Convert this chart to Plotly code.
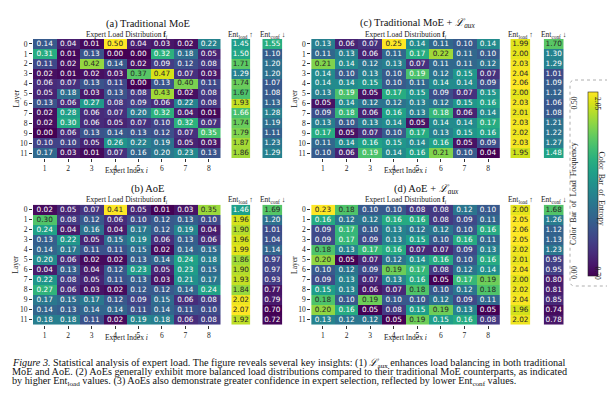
import plotly.graph_objects as go

W, H = 615, 410

experts = [1, 2, 3, 4, 5, 6, 7, 8]
layers = list(range(12))

# (a) Traditional MoE
moe_load = [
    [0.14, 0.04, 0.01, 0.50, 0.04, 0.03, 0.02, 0.22],
    [0.31, 0.01, 0.13, 0.00, 0.00, 0.32, 0.18, 0.05],
    [0.11, 0.02, 0.42, 0.14, 0.02, 0.09, 0.12, 0.08],
    [0.02, 0.01, 0.02, 0.03, 0.37, 0.47, 0.07, 0.03],
    [0.06, 0.07, 0.13, 0.11, 0.00, 0.13, 0.40, 0.11],
    [0.05, 0.18, 0.03, 0.13, 0.08, 0.43, 0.02, 0.08],
    [0.13, 0.06, 0.27, 0.08, 0.09, 0.06, 0.22, 0.08],
    [0.02, 0.28, 0.06, 0.07, 0.20, 0.32, 0.04, 0.01],
    [0.02, 0.30, 0.06, 0.05, 0.07, 0.10, 0.32, 0.07],
    [0.00, 0.06, 0.13, 0.14, 0.13, 0.12, 0.07, 0.35],
    [0.10, 0.10, 0.05, 0.26, 0.22, 0.19, 0.05, 0.03],
    [0.17, 0.03, 0.01, 0.07, 0.16, 0.20, 0.23, 0.13],
]
moe_ent_load = [1.45, 1.50, 1.71, 1.29, 1.74, 1.67, 1.93, 1.66, 1.74, 1.79, 1.87, 1.86]
moe_ent_conf = [1.55, 1.10, 1.20, 1.20, 1.07, 1.08, 1.13, 1.28, 1.19, 1.11, 1.23, 1.29]

# (c) Traditional MoE + L_aux
moe_aux_load = [
    [0.13, 0.06, 0.07, 0.25, 0.14, 0.11, 0.10, 0.14],
    [0.11, 0.13, 0.06, 0.11, 0.17, 0.22, 0.11, 0.10],
    [0.21, 0.14, 0.12, 0.13, 0.07, 0.11, 0.11, 0.12],
    [0.14, 0.10, 0.13, 0.10, 0.19, 0.12, 0.15, 0.07],
    [0.14, 0.14, 0.15, 0.10, 0.11, 0.14, 0.14, 0.09],
    [0.13, 0.19, 0.05, 0.17, 0.15, 0.09, 0.07, 0.15],
    [0.05, 0.14, 0.12, 0.12, 0.13, 0.12, 0.15, 0.16],
    [0.09, 0.18, 0.06, 0.16, 0.13, 0.18, 0.06, 0.14],
    [0.13, 0.10, 0.13, 0.14, 0.05, 0.14, 0.14, 0.17],
    [0.17, 0.05, 0.07, 0.10, 0.17, 0.13, 0.15, 0.16],
    [0.11, 0.14, 0.16, 0.15, 0.14, 0.16, 0.05, 0.09],
    [0.10, 0.06, 0.19, 0.14, 0.16, 0.21, 0.10, 0.04],
]
moe_aux_ent_load = [1.99, 2.00, 2.03, 2.04, 2.06, 2.00, 2.03, 2.01, 2.03, 2.02, 2.03, 1.95]
moe_aux_ent_conf = [1.70, 1.30, 1.29, 1.01, 1.09, 1.12, 1.06, 1.08, 1.21, 1.22, 1.27, 1.48]

# (b) AoE
aoe_load = [
    [0.02, 0.05, 0.07, 0.41, 0.05, 0.01, 0.03, 0.35],
    [0.30, 0.08, 0.12, 0.06, 0.10, 0.12, 0.13, 0.10],
    [0.24, 0.04, 0.16, 0.04, 0.17, 0.12, 0.19, 0.04],
    [0.13, 0.22, 0.05, 0.15, 0.19, 0.06, 0.13, 0.06],
    [0.14, 0.17, 0.11, 0.11, 0.15, 0.02, 0.14, 0.15],
    [0.20, 0.06, 0.02, 0.02, 0.13, 0.14, 0.24, 0.18],
    [0.04, 0.13, 0.04, 0.12, 0.23, 0.05, 0.23, 0.15],
    [0.22, 0.08, 0.05, 0.11, 0.13, 0.03, 0.21, 0.17],
    [0.27, 0.06, 0.03, 0.02, 0.12, 0.12, 0.14, 0.24],
    [0.17, 0.15, 0.17, 0.12, 0.09, 0.15, 0.06, 0.08],
    [0.14, 0.13, 0.14, 0.14, 0.11, 0.14, 0.11, 0.10],
    [0.18, 0.18, 0.11, 0.02, 0.19, 0.18, 0.06, 0.08],
]
aoe_ent_load = [1.46, 1.96, 1.90, 1.96, 1.99, 1.86, 1.90, 1.93, 1.84, 2.02, 2.07, 1.92]
aoe_ent_conf = [1.69, 1.20, 1.01, 1.04, 1.14, 0.97, 0.97, 0.93, 0.77, 0.79, 0.70, 0.72]

# (d) AoE + L_aux
aoe_aux_load = [
    [0.23, 0.18, 0.10, 0.10, 0.08, 0.08, 0.12, 0.10],
    [0.16, 0.12, 0.12, 0.16, 0.16, 0.08, 0.09, 0.11],
    [0.09, 0.17, 0.10, 0.13, 0.12, 0.12, 0.10, 0.16],
    [0.09, 0.17, 0.09, 0.13, 0.15, 0.10, 0.16, 0.11],
    [0.18, 0.13, 0.17, 0.16, 0.07, 0.07, 0.09, 0.13],
    [0.20, 0.05, 0.07, 0.12, 0.14, 0.16, 0.10, 0.16],
    [0.10, 0.12, 0.09, 0.19, 0.17, 0.08, 0.12, 0.14],
    [0.09, 0.13, 0.07, 0.13, 0.16, 0.05, 0.17, 0.19],
    [0.15, 0.13, 0.06, 0.07, 0.18, 0.10, 0.12, 0.18],
    [0.18, 0.10, 0.19, 0.10, 0.10, 0.12, 0.09, 0.11],
    [0.20, 0.16, 0.05, 0.08, 0.15, 0.19, 0.13, 0.05],
    [0.13, 0.12, 0.12, 0.05, 0.19, 0.15, 0.16, 0.08],
]
aoe_aux_ent_load = [2.00, 2.05, 2.06, 2.05, 2.02, 2.01, 2.04, 2.00, 2.02, 2.04, 1.96, 2.02]
aoe_aux_ent_conf = [1.68, 1.26, 1.12, 1.13, 1.23, 0.95, 0.95, 0.80, 0.81, 0.85, 0.74, 0.78]

ent_min, ent_max = 0.70, 2.05
freq_bar_labels = ["0.00", "0.50"]
ent_bar_labels = ["0.70", "2.05"]

VIRIDIS = [
    [0.0, '#440154'], [0.06274509803921569, '#48186a'], [0.12549019607843137, '#472d7b'],
    [0.18823529411764706, '#424086'], [0.25098039215686274, '#3b528b'], [0.3137254901960784, '#33638d'],
    [0.3764705882352941, '#2c728e'], [0.4392156862745098, '#26828e'], [0.5019607843137255, '#21918c'],
    [0.5647058823529412, '#1fa088'], [0.6274509803921569, '#28ae80'], [0.6901960784313725, '#3fbc73'],
    [0.7529411764705882, '#5ec962'], [0.8156862745098039, '#84d44b'], [0.8784313725490196, '#addc30'],
    [0.9411764705882353, '#d8e219'], [1.0, '#fde725'],
]

SERIF = "Liberation Serif"
SANS = "DejaVu Sans"


def px(x):
    return x / W


def py(y):
    return 1 - y / H


def hex2rgb(h):
    h = h.lstrip('#')
    return [int(h[i:i + 2], 16) for i in (0, 2, 4)]


def color_at(t):
    t = min(max(t, 0.0), 1.0)
    for (p0, c0), (p1, c1) in zip(VIRIDIS[:-1], VIRIDIS[1:]):
        if p0 <= t <= p1:
            f = (t - p0) / (p1 - p0) if p1 > p0 else 0
            a, b = hex2rgb(c0), hex2rgb(c1)
            return [a[i] + (b[i] - a[i]) * f for i in range(3)]
    return hex2rgb(VIRIDIS[-1][1])


def text_color(t):
    c = [v / 255 for v in color_at(t)]
    c = [v / 12.92 if v <= 0.03928 else ((v + 0.055) / 1.055) ** 2.4 for v in c]
    lum = 0.2126 * c[0] + 0.7152 * c[1] + 0.0722 * c[2]
    return '#262626' if lum > 0.408 else 'white'


panels = [
    dict(title='(a) Traditional MoE', frac=moe_load, el=moe_ent_load, ec=moe_ent_conf,
         xs=[(25, 212.5), (223.3, 242.3), (254.3, 274.3)], ys=(31, 150), tx=140),
    dict(title='(c) Traditional MoE + <i>ℒ</i><sub><i>aux</i></sub>', frac=moe_aux_load,
         el=moe_aux_ent_load, ec=moe_aux_ent_conf,
         xs=[(303.2, 491.8), (502.3, 522.3), (535.7, 555.7)], ys=(31, 150), tx=410),
    dict(title='(b) AoE', frac=aoe_load, el=aoe_ent_load, ec=aoe_ent_conf,
         xs=[(25, 212.5), (223.3, 242.3), (254.3, 274.3)], ys=(196.7, 316.7), tx=140),
    dict(title='(d) AoE + <i>ℒ</i><sub><i>aux</i></sub>', frac=aoe_aux_load,
         el=aoe_aux_ent_load, ec=aoe_aux_ent_conf,
         xs=[(303.2, 491.8), (502.3, 522.3), (535.7, 555.7)], ys=(196.7, 316.7), tx=418),
]

fig = go.Figure()
layout = dict(
    width=W, height=H, margin=dict(l=0, r=0, t=0, b=0),
    paper_bgcolor='white', plot_bgcolor='white', showlegend=False,
    font=dict(family=SERIF, color='#222', size=8),
)
annotations = []
tickfont = dict(family=SERIF, size=7.5, color='#222')
cell_size = 7.3

n = 0
for pi, p in enumerate(panels):
    yt, yb = p['ys']
    ydom = [py(yb), py(yt)]
    frac = p['frac']
    fmin = min(min(r) for r in frac)
    fmax = max(max(r) for r in frac)
    n += 1
    xa, ya = ('x' if n == 1 else f'x{n}'), ('y' if n == 1 else f'y{n}')
    hm = dict(x=experts, y=layers, z=frac, zmin=fmin, zmax=fmax, colorscale=VIRIDIS,
              showscale=False, xaxis=xa, yaxis=ya, hoverinfo='skip')
    if pi == 0:
        hm['showscale'] = True
        hm['colorbar'] = dict(x=px(579.5), xanchor='left', y=py(176), yanchor='middle',
                              len=184 / H, lenmode='fraction', thickness=10, thicknessmode='pixels',
                              xpad=0, ypad=0, outlinewidth=0.6, outlinecolor='#222',
                              showticklabels=False, ticks='')
    fig.add_trace(go.Heatmap(**hm))
    xs_, ys_, ts_, cs_ = [], [], [], []
    for li in layers:
        for ei, e in enumerate(experts):
            v = frac[li][ei]
            xs_.append(e); ys_.append(li); ts_.append(f'{v:.2f}')
            cs_.append(text_color((v - fmin) / (fmax - fmin)))
    fig.add_trace(go.Scatter(x=xs_, y=ys_, text=ts_, mode='text', xaxis=xa, yaxis=ya,
                             textfont=dict(family=SANS, size=cell_size, color=cs_), hoverinfo='skip'))
    x0, x1 = p['xs'][0]
    layout['xaxis' + ('' if n == 1 else str(n))] = dict(
        domain=[px(x0), px(x1)], anchor=ya, range=[0.5, 8.5], tickvals=experts,
        ticktext=[str(e) for e in experts], ticks='outside', ticklen=3, tickwidth=0.7,
        tickcolor='#333', tickfont=tickfont, showgrid=False, zeroline=False, showline=False,
        fixedrange=True)
    layout['yaxis' + ('' if n == 1 else str(n))] = dict(
        domain=ydom, anchor=xa, range=[11.5, -0.5], tickvals=layers,
        ticktext=[str(l) for l in layers], ticks='outside', ticklen=3, tickwidth=0.7,
        tickcolor='#333', tickfont=tickfont, showgrid=False, zeroline=False, showline=False,
        fixedrange=True)
    mc = (x0 + x1) / 2
    annotations += [
        dict(x=px(p['tx']), y=py(yt - 15.5), text=p['title'], showarrow=False,
             xanchor='center', yanchor='middle', font=dict(family=SERIF, size=10.5, color='#111')),
        dict(x=px(mc), y=py(yt - 4.5), text='Expert Load Distribution <b>f</b><sub><i>i</i></sub>',
             showarrow=False, xanchor='center', yanchor='middle',
             font=dict(family=SERIF, size=7.5, color='#222')),
        dict(x=px(mc), y=py(yb + 12.5), text='Expert Index <i>i</i>', showarrow=False,
             xanchor='center', yanchor='middle', font=dict(family=SERIF, size=7.5, color='#222')),
        dict(x=px(x0 - 17), y=py((yt + yb) / 2), text='Layer', showarrow=False, textangle=-90,
             xanchor='center', yanchor='middle', font=dict(family=SERIF, size=7.5, color='#222')),
    ]
    for k, (vals, head) in enumerate([(p['el'], 'Ent<sub>load</sub> ↑'), (p['ec'], 'Ent<sub>conf</sub> ↓')]):
        n += 1
        xa, ya = f'x{n}', f'y{n}'
        fig.add_trace(go.Heatmap(x=[0], y=layers, z=[[v] for v in vals], zmin=ent_min, zmax=ent_max,
                                 colorscale=VIRIDIS, showscale=False, xaxis=xa, yaxis=ya,
                                 hoverinfo='skip'))
        fig.add_trace(go.Scatter(x=[0] * len(vals), y=layers, text=[f'{v:.2f}' for v in vals],
                                 mode='text', xaxis=xa, yaxis=ya, hoverinfo='skip',
                                 textfont=dict(family=SANS, size=cell_size,
                                               color=[text_color((v - ent_min) / (ent_max - ent_min))
                                                      for v in vals])))
        ex0, ex1 = p['xs'][k + 1]
        layout[f'xaxis{n}'] = dict(domain=[px(ex0), px(ex1)], anchor=ya, range=[-0.5, 0.5],
                                   showticklabels=False, ticks='', showgrid=False, zeroline=False,
                                   showline=False, fixedrange=True)
        layout[f'yaxis{n}'] = dict(domain=ydom, anchor=xa, range=[11.5, -0.5],
                                   showticklabels=False, ticks='', showgrid=False, zeroline=False,
                                   showline=False, fixedrange=True)
        annotations.append(dict(x=px((ex0 + ex1) / 2), y=py(yt - 4.5), text=head, showarrow=False,
                                xanchor='center', yanchor='middle',
                                font=dict(family=SERIF, size=7.5, color='#222')))

# colorbar labels
cbf = dict(family=SERIF, size=7.5, color='#222')
annotations += [
    dict(x=px(572.5), y=py(87), text=freq_bar_labels[1], textangle=-90, showarrow=False, font=cbf),
    dict(x=px(572.5), y=py(265), text=freq_bar_labels[0], textangle=-90, showarrow=False, font=cbf),
    dict(x=px(572.5), y=py(186), text='Color  Bar  of  Load  Frequency', textangle=-90, showarrow=False,
         font=dict(family=SERIF, size=8, color='#222')),
    dict(x=px(596), y=py(87), text=ent_bar_labels[1], textangle=90, showarrow=False, font=cbf),
    dict(x=px(596), y=py(265), text=ent_bar_labels[0], textangle=90, showarrow=False, font=cbf),
    dict(x=px(599), y=py(180), text='Color  Bar  of  Entropy', textangle=90, showarrow=False,
         font=dict(family=SERIF, size=8, color='#222')),
]

# caption
cap = [
    '<i>Figure 3.</i> Statistical analysis of expert load. The figure reveals several key insights: (1) '
    '<i>ℒ</i><sub>aux</sub> enhances load balancing in both traditional',
    'MoE and AoE. (2) AoEs generally exhibit more balanced load distributions compared to their '
    'traditional MoE counterparts, as indicated',
    'by higher Ent<sub>load</sub> values. (3) AoEs also demonstrate greater confidence in expert '
    'selection, reflected by lower Ent<sub>conf</sub> values.',
]
for i, line in enumerate(cap):
    annotations.append(dict(x=px(2), y=py(355 + 9.4 * i), text=line, showarrow=False,
                            xanchor='left', yanchor='middle',
                            font=dict(family=SERIF, size=10.2, color='#111')))

layout['annotations'] = [dict(a, xref='paper', yref='paper') for a in annotations]

# dashed rounded box around colorbar
bx0, bx1, bt, bb, r = px(562), px(612), py(72), py(278), 5
rx, ry = r / W, r / H
path = (f'M {bx0 + rx},{bt} L {bx1 - rx},{bt} Q {bx1},{bt} {bx1},{bt - ry} '
        f'L {bx1},{bb + ry} Q {bx1},{bb} {bx1 - rx},{bb} L {bx0 + rx},{bb} '
        f'Q {bx0},{bb} {bx0},{bb + ry} L {bx0},{bt - ry} Q {bx0},{bt} {bx0 + rx},{bt} Z')
layout['shapes'] = [dict(type='path', path=path, xref='paper', yref='paper',
                         line=dict(color='#999', width=0.8, dash='dot'))]

fig.update_layout(**layout)
fig.write_html('out.html')
